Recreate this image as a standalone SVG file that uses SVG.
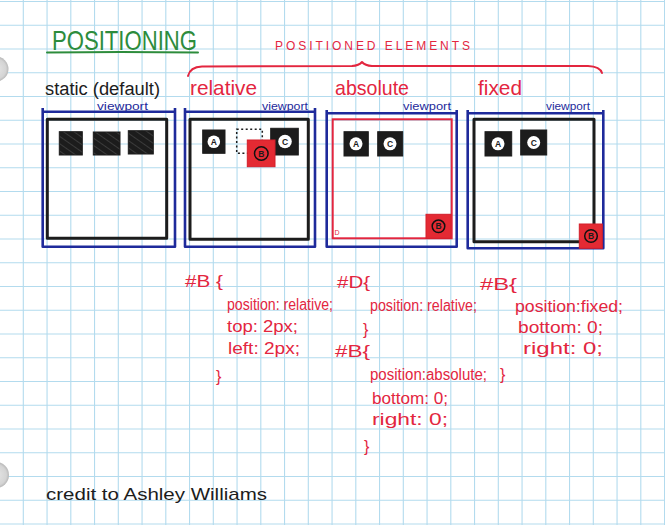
<svg xmlns="http://www.w3.org/2000/svg" width="665" height="525" viewBox="0 0 665 525">
<defs>
<style>
.grid{stroke:#b3dbee;stroke-width:1.1;fill:none}
.hand{font-family:"Liberation Sans",Arial,sans-serif}
.red{fill:#e3263f}
.blk{fill:#1c1c1c}
.blu{fill:#1e2a9b}
.vp{stroke:#1e2a9b;stroke-width:2.6;fill:none;stroke-linejoin:round}
.inner{stroke:#1c1c1c;stroke-width:3;fill:none;stroke-linejoin:round}
.sq{fill:#1c1c1c;stroke:#1c1c1c;stroke-width:1}
.rsq{fill:#e42a33;stroke:#d31f2a;stroke-width:1}
.wc{fill:#fff}
.bc{fill:none;stroke:#111;stroke-width:1.5}
.lt{font-family:"Liberation Sans",Arial,sans-serif;font-size:8.5px;font-weight:bold;text-anchor:middle}
.code{font-family:"Liberation Sans",Arial,sans-serif;font-size:16px;fill:#e3263f}
</style>
<pattern id="hatch" width="6" height="6" patternUnits="userSpaceOnUse" patternTransform="rotate(-55)">
<rect width="6" height="6" fill="#1c1c1c"/>
<line x1="0" y1="0" x2="0" y2="6" stroke="#6a6a6a" stroke-width="0.8"/>
</pattern>
<radialGradient id="hole" cx="0.5" cy="0.5" r="0.5">
<stop offset="0" stop-color="#e6e6e6"/>
<stop offset="0.8" stop-color="#d4d4d4"/>
<stop offset="1" stop-color="#b8b8b8"/>
</radialGradient>
</defs>
<rect width="665" height="525" fill="#ffffff"/>
<path class="grid" d="M23.3 0V525M47.05 0V525M70.8 0V525M94.55 0V525M118.3 0V525M142.05 0V525M165.8 0V525M189.55 0V525M213.3 0V525M237.05 0V525M260.8 0V525M284.55 0V525M308.3 0V525M332.05 0V525M355.8 0V525M379.55 0V525M403.3 0V525M427.05 0V525M450.8 0V525M474.55 0V525M498.3 0V525M522.05 0V525M545.8 0V525M569.55 0V525M593.3 0V525M617.05 0V525M640.8 0V525M664.55 0V525
M0 1.5H665M0 25.25H665M0 49H665M0 72.75H665M0 96.5H665M0 120.25H665M0 144H665M0 167.75H665M0 191.5H665M0 215.25H665M0 239H665M0 262.75H665M0 286.5H665M0 310.25H665M0 334H665M0 357.75H665M0 381.5H665M0 405.25H665M0 429H665M0 452.75H665M0 476.5H665M0 500.25H665M0 524H665"/>
<circle cx="-4" cy="69" r="12.5" fill="url(#hole)"/>
<circle cx="-4" cy="475" r="13" fill="url(#hole)"/>

<g id="title">
<text class="hand" x="52" y="50" font-size="28" fill="#2d8c3c" textLength="145" lengthAdjust="spacingAndGlyphs">POSITIONING</text>
<path d="M47 52.5 Q120 51.5 198 52.5" stroke="#2d8c3c" stroke-width="2" fill="none" stroke-linecap="round"/>
</g>

<g id="positioned-elements">
<text class="hand red" x="275" y="49.5" font-size="12" textLength="195" lengthAdjust="spacing">POSITIONED ELEMENTS</text>
<path d="M188 76 Q190 67 202 66.5 L352 66 Q359 65.5 362 62 Q365 65.5 372 66 L588 66 Q600 66.5 602 73" stroke="#e3263f" stroke-width="2" fill="none" stroke-linecap="round" stroke-linejoin="round"/>
</g>

<g id="static">
<text class="hand blk" x="45" y="95" font-size="18" textLength="115" lengthAdjust="spacingAndGlyphs">static (default)</text>
<text class="hand blu" x="97" y="109.5" font-size="10.5" textLength="51" lengthAdjust="spacingAndGlyphs">viewport</text>
<path class="vp" d="M42.7 108 V246.7 H175 V108 M42.7 111.7 H175"/>
<rect class="inner" x="47.3" y="119.3" width="119.4" height="119"/>
<rect x="59.3" y="131.7" width="23" height="23.3" fill="url(#hatch)" stroke="#1c1c1c"/>
<rect x="93.3" y="132" width="26.7" height="23" fill="url(#hatch)" stroke="#1c1c1c"/>
<rect x="128.3" y="130.7" width="25" height="23.3" fill="url(#hatch)" stroke="#1c1c1c"/>
</g>

<g id="relative">
<text class="hand red" x="190" y="95" font-size="21" textLength="67" lengthAdjust="spacingAndGlyphs">relative</text>
<text class="hand blu" x="262" y="109.5" font-size="10.5" textLength="46" lengthAdjust="spacingAndGlyphs">viewport</text>
<path class="vp" d="M185 108 V246.7 H315 V108 M185 111.7 H315"/>
<rect class="inner" x="190" y="119.3" width="118.3" height="120"/>
<rect class="sq" x="202.7" y="130" width="22.3" height="23.3"/>
<circle class="wc" cx="213.8" cy="141.7" r="6.3"/>
<text class="lt blk" x="213.8" y="144.8">A</text>
<rect x="236.7" y="129.3" width="25.6" height="24" fill="none" stroke="#1c1c1c" stroke-width="1.5" stroke-dasharray="2 2.5"/>
<rect class="sq" x="270.7" y="128.3" width="27.6" height="26.7"/>
<circle class="wc" cx="285" cy="141.5" r="6.8"/>
<text class="lt blk" x="285" y="144.6">C</text>
<rect class="rsq" x="247.3" y="140" width="27.7" height="26.7"/>
<circle class="bc" cx="261.3" cy="153.5" r="6.8"/>
<text class="lt blk" x="261.3" y="156.6">B</text>
</g>

<g id="absolute">
<text class="hand red" x="335" y="95" font-size="21" textLength="74" lengthAdjust="spacingAndGlyphs">absolute</text>
<text class="hand blu" x="403" y="110" font-size="10.5" textLength="48" lengthAdjust="spacingAndGlyphs">viewport</text>
<path class="vp" d="M326.7 110 V246.7 H456.7 V110 M326.7 113.3 H456.7"/>
<rect x="332.7" y="119.3" width="119" height="119" fill="none" stroke="#e3263f" stroke-width="2"/>
<rect class="sq" x="344" y="131.7" width="24.3" height="24.3"/>
<circle class="wc" cx="356" cy="143.8" r="6.5"/>
<text class="lt blk" x="356" y="146.9">A</text>
<rect class="sq" x="377.7" y="131.7" width="25" height="24.3"/>
<circle class="wc" cx="390" cy="143.8" r="6.5"/>
<text class="lt blk" x="390" y="146.9">C</text>
<rect class="rsq" x="426" y="214.3" width="25" height="24"/>
<circle class="bc" cx="438.5" cy="226.3" r="6.3"/>
<text class="lt blk" x="438.5" y="229.4">B</text>
<text class="hand red" x="334.5" y="235" font-size="7">D</text>
</g>

<g id="fixed">
<text class="hand red" x="478" y="95" font-size="21" textLength="44" lengthAdjust="spacingAndGlyphs">fixed</text>
<text class="hand blu" x="546" y="110" font-size="10.5" textLength="44" lengthAdjust="spacingAndGlyphs">viewport</text>
<path class="vp" d="M467.7 110 V248.3 H603.3 V110 M467.7 113.3 H603.3"/>
<rect class="inner" x="474" y="119.3" width="120" height="122.4"/>
<rect class="sq" x="485" y="131.7" width="26.7" height="24.3"/>
<circle class="wc" cx="498" cy="143.8" r="6.5"/>
<text class="lt blk" x="498" y="146.9">A</text>
<rect class="sq" x="520.7" y="130" width="26" height="25"/>
<circle class="wc" cx="533.7" cy="142.5" r="6.5"/>
<text class="lt blk" x="533.7" y="145.6">C</text>
<rect class="rsq" x="579.3" y="224" width="23" height="24.3"/>
<circle class="bc" cx="591" cy="236" r="6.3"/>
<text class="lt blk" x="591" y="239.1">B</text>
</g>

<g id="code-relative">
<text class="code" x="185" y="287" font-size="20" textLength="38" lengthAdjust="spacingAndGlyphs">#B {</text>
<text class="code" x="227" y="310" textLength="106" lengthAdjust="spacingAndGlyphs">position: relative;</text>
<text class="code" x="227" y="332" textLength="71" lengthAdjust="spacingAndGlyphs">top: 2px;</text>
<text class="code" x="228" y="354" textLength="72" lengthAdjust="spacingAndGlyphs">left: 2px;</text>
<text class="code" x="216" y="382" font-size="20">}</text>
</g>

<g id="code-absolute">
<text class="code" x="337" y="288" font-size="19" textLength="33" lengthAdjust="spacingAndGlyphs">#D{</text>
<text class="code" x="370" y="311" textLength="107" lengthAdjust="spacingAndGlyphs">position: relative;</text>
<text class="code" x="363" y="335" font-size="19">}</text>
<text class="code" x="335" y="357" font-size="19" textLength="35" lengthAdjust="spacingAndGlyphs">#B{</text>
<text class="code" x="370" y="380" textLength="117" lengthAdjust="spacingAndGlyphs">position:absolute;</text>
<text class="code" x="372" y="404" textLength="76" lengthAdjust="spacingAndGlyphs">bottom: 0;</text>
<text class="code" x="372" y="425" textLength="76" lengthAdjust="spacingAndGlyphs">right: 0;</text>
<text class="code" x="364" y="452" font-size="19">}</text>
</g>

<g id="code-fixed">
<text class="code" x="480" y="290" font-size="20" textLength="37" lengthAdjust="spacingAndGlyphs">#B{</text>
<text class="code" x="515" y="312" textLength="108" lengthAdjust="spacingAndGlyphs">position:fixed;</text>
<text class="code" x="518" y="333" textLength="85" lengthAdjust="spacingAndGlyphs">bottom: 0;</text>
<text class="code" x="523" y="354" textLength="80" lengthAdjust="spacingAndGlyphs">right: 0;</text>
<text class="code" x="500" y="380" font-size="19">}</text>
</g>

<g id="credit">
<text class="hand blk" x="46" y="500" font-size="17" textLength="221" lengthAdjust="spacingAndGlyphs">credit to Ashley Williams</text>
</g>
</svg>
